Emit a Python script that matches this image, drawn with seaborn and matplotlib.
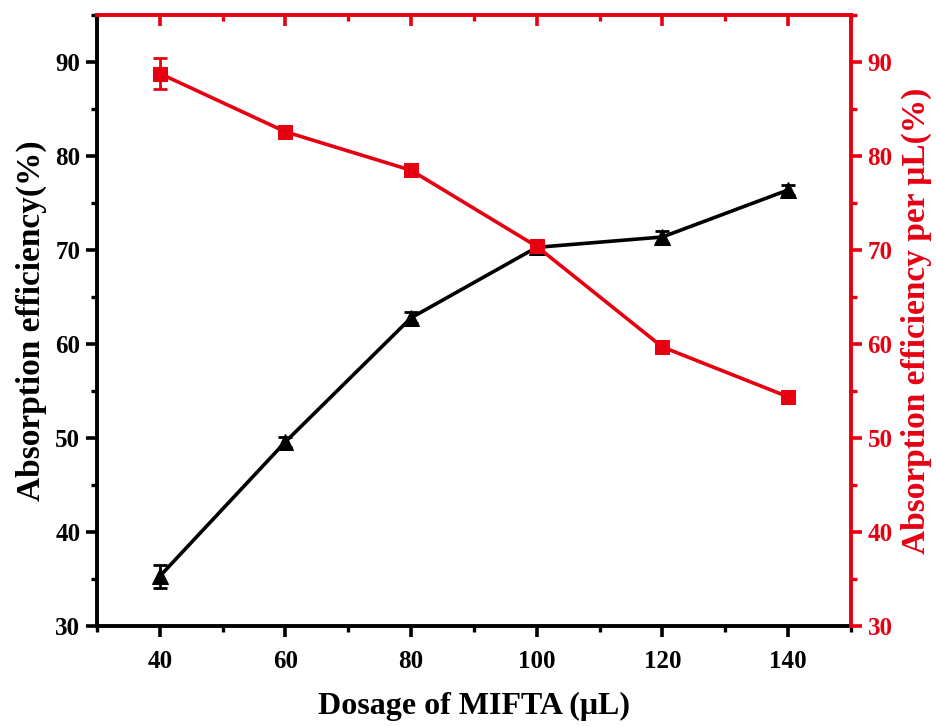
import numpy as np
import pandas as pd
import matplotlib
matplotlib.use("Agg")
import matplotlib.pyplot as plt
import seaborn as sns
from matplotlib.ticker import MultipleLocator

# data
dosage = [40, 60, 80, 100, 120, 140]
efficiency = [35.3, 49.6, 62.8, 70.3, 71.4, 76.4]
efficiency_err = [1.2, 0.5, 0.6, 0.5, 0.6, 0.5]
eff_per_ul = [88.8, 82.6, 78.5, 70.4, 59.7, 54.4]
eff_per_ul_err = [1.7, 0.5, 0.5, 0.4, 0.4, 0.4]

RED = "#e60012"

sns.set_style("ticks")
plt.rcParams["font.family"] = ["Liberation Serif", "DejaVu Serif"]
plt.rcParams["font.weight"] = "bold"
plt.rcParams["axes.labelcolor"] = "black"
plt.rcParams["axes.edgecolor"] = "black"

df = pd.DataFrame({"dosage": dosage, "eff": efficiency, "eff_ul": eff_per_ul})

fig = plt.figure(figsize=(9.36, 7.26), dpi=100)
ax = fig.add_axes([0.1036, 0.1377, 0.8054, 0.8413])
ax2 = ax.twinx()

# left series: black triangles
ax.errorbar(dosage, efficiency, yerr=efficiency_err, fmt="none", ecolor="black",
            elinewidth=2, capsize=5, capthick=2, zorder=2)
sns.lineplot(data=df, x="dosage", y="eff", ax=ax, color="black", linewidth=2.6,
             marker="^", markersize=12, markeredgecolor="black", zorder=3)

# right series: red squares
ax2.errorbar(dosage, eff_per_ul, yerr=eff_per_ul_err, fmt="none", ecolor=RED,
             elinewidth=2, capsize=5, capthick=2, zorder=2)
sns.lineplot(data=df, x="dosage", y="eff_ul", ax=ax2, color=RED, linewidth=2.6,
             marker="s", markersize=10, markeredgecolor=RED, zorder=3)

for a in (ax, ax2):
    a.set_xlim(30, 150)
    a.set_ylim(30, 95)
    a.yaxis.set_major_locator(MultipleLocator(10))
    a.yaxis.set_minor_locator(MultipleLocator(5))
ax.xaxis.set_major_locator(MultipleLocator(20))
ax.xaxis.set_minor_locator(MultipleLocator(10))

# spines
for a in (ax, ax2):
    for s in a.spines.values():
        s.set_linewidth(2.8)
        s.set_color("black")
ax.spines["top"].set_visible(False)
ax.spines["right"].set_visible(False)
ax2.spines["left"].set_visible(False)
ax2.spines["bottom"].set_visible(False)
ax2.spines["top"].set_color(RED)
ax2.spines["right"].set_color(RED)

ax.tick_params(axis="both", which="major", direction="out", length=8, width=2.6,
               labelsize=18, colors="black")
ax.tick_params(axis="both", which="minor", direction="out", length=4, width=2.4,
               colors="black")
ax.tick_params(axis="x", which="major", pad=9)
ax.tick_params(axis="y", which="major", pad=4)
ax2.tick_params(axis="y", which="major", direction="out", length=8, width=2.6,
                labelsize=18, colors=RED, pad=4)
ax2.tick_params(axis="y", which="minor", direction="out", length=4, width=2.4, colors=RED)

# top axis: red inward ticks, no labels
top = ax.secondary_xaxis("top")
top.xaxis.set_major_locator(MultipleLocator(20))
top.xaxis.set_minor_locator(MultipleLocator(10))
top.tick_params(axis="x", which="major", direction="in", length=8, width=2.6,
                colors=RED, labeltop=False)
top.tick_params(axis="x", which="minor", direction="in", length=4, width=2.4, colors=RED)
top.spines["top"].set_visible(False)

for lbl in ax.get_xticklabels() + ax.get_yticklabels() + ax2.get_yticklabels():
    lbl.set_fontweight("bold")

ax.set_xlabel("Dosage of MIFTA (μL)", fontsize=23, fontweight="bold", labelpad=14,
              color="black")
ax.set_ylabel("Absorption efficiency(%)", fontsize=24, fontweight="bold", labelpad=6,
              color="black")
ax2.set_ylabel("Absorption efficiency per μL(%)", fontsize=24, fontweight="bold",
               color=RED, labelpad=6)

fig.savefig("out.png", dpi=100)
